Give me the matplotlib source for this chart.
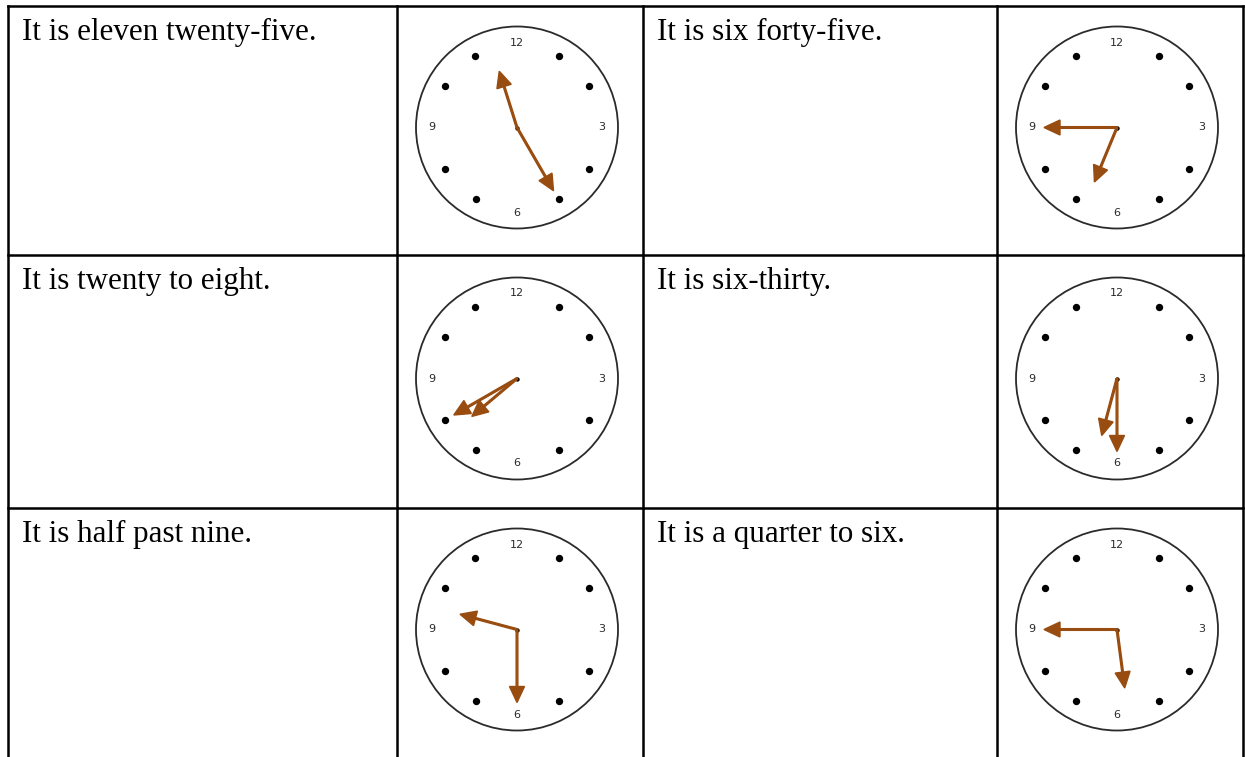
import numpy as np
import matplotlib
matplotlib.use("Agg")
import matplotlib.pyplot as plt
from matplotlib.patches import Circle

# table content
sentences = ["It is eleven twenty-five.", "It is six forty-five.",
             "It is twenty to eight.", "It is six-thirty.",
             "It is half past nine.", "It is a quarter to six."]
hours = [11, 6, 7, 6, 9, 5]
minutes = [25, 45, 40, 30, 30, 45]
dial_numbers = ["12", "3", "6", "9"]
dial_positions = [0, 3, 6, 9]
dot_positions = [1, 2, 4, 5, 7, 8, 10, 11]

# layout (pixels)
col_edges = [8, 397, 643, 997, 1243]
row_edges = [6, 255, 508, 757]
R = 101
hand_color = "#994c0f"

fig = plt.figure(figsize=(12.45, 7.57), dpi=100)
ax = fig.add_axes([0, 0, 1, 1])
ax.set_xlim(0, 1245)
ax.set_ylim(757, 0)
ax.axis("off")

# grid lines
for x in col_edges:
    ax.plot([x, x], [row_edges[0], 760], color="black", lw=1.8, solid_capstyle="projecting")
for y in row_edges[:-1]:
    ax.plot([col_edges[0], col_edges[-1]], [y, y], color="black", lw=1.8, solid_capstyle="projecting")


def xy(cx, cy, ang, r):
    a = np.radians(ang)
    return cx + r * np.sin(a), cy - r * np.cos(a)


def draw_clock(cx, cy, h, m):
    ax.add_patch(Circle((cx, cy), R, fill=False, ec="#2a2a2a", lw=1.3))
    px, py = zip(*[xy(cx, cy, p * 30, 83) for p in dot_positions])
    ax.scatter(px, py, s=28, color="black", zorder=3, lw=0)
    for lab, p in zip(dial_numbers, dial_positions):
        tx, ty = xy(cx, cy, p * 30, 85)
        ax.text(tx, ty, lab, fontsize=8, ha="center", va="center", color="#2a2a2a")
    ax.scatter([cx], [cy], s=10, color="black", zorder=4, lw=0)
    # minute hand, hour hand
    for ang, L in [(m * 6, 73), ((h % 12 + m / 60) * 30, 59)]:
        ex, ey = xy(cx, cy, ang, L)
        ax.arrow(cx, cy, ex - cx, ey - cy, width=1.7, head_width=15, head_length=16,
                 length_includes_head=True, color=hand_color, zorder=5)


for i, s in enumerate(sentences):
    r, c = divmod(i, 2)
    left = col_edges[2 * c]
    top = row_edges[r]
    ax.text(left + 14, top + 34, s, fontsize=22.3, family="Liberation Serif",
            ha="left", va="baseline", color="black")
    cx = (col_edges[2 * c + 1] + col_edges[2 * c + 2]) / 2 - 3
    cy = (row_edges[r] + row_edges[r + 1]) / 2 - 3
    draw_clock(cx, cy, hours[i], minutes[i])

fig.savefig("out.png", dpi=100)
